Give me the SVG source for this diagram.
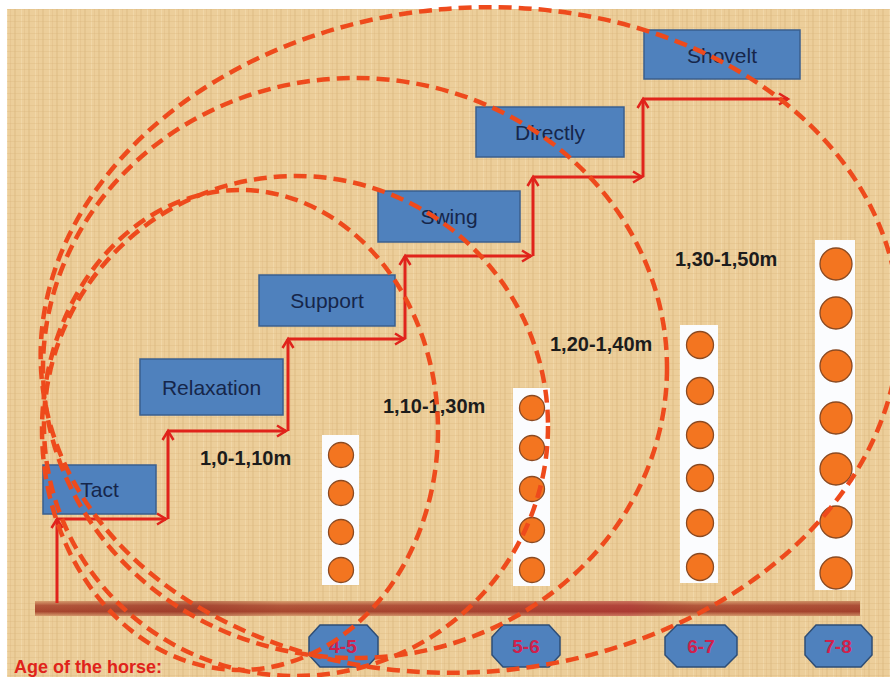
<svg xmlns="http://www.w3.org/2000/svg" width="890" height="677" viewBox="0 0 890 677">
<defs>
<pattern id="pap" width="14" height="6" patternUnits="userSpaceOnUse">
<rect width="14" height="6" fill="#ECCE9A"/>
<rect x="0" width="2" height="6" fill="#E0BD86" opacity="0.55"/>
<rect x="7" width="1" height="6" fill="#F4DCAE" opacity="0.7"/>
<rect x="10" width="1" height="6" fill="#DDB780" opacity="0.35"/>
<rect y="3" width="14" height="1" fill="#D9B47C" opacity="0.3"/>
</pattern>
<linearGradient id="barV" x1="0" y1="0" x2="0" y2="1">
<stop offset="0" stop-color="#D9A070"/>
<stop offset="0.3" stop-color="#B3583C"/>
<stop offset="0.7" stop-color="#A8472F"/>
<stop offset="1" stop-color="#D9A070"/>
</linearGradient>
<linearGradient id="barH" x1="0" y1="0" x2="1" y2="0">
<stop offset="0" stop-color="#8E2A22" stop-opacity="0"/>
<stop offset="0.2" stop-color="#8E2A22" stop-opacity="0.35"/>
<stop offset="0.3" stop-color="#8E2A22" stop-opacity="0"/>
<stop offset="0.72" stop-color="#B0203A" stop-opacity="0.35"/>
<stop offset="0.8" stop-color="#8E2A22" stop-opacity="0"/>
<stop offset="1" stop-color="#8E2A22" stop-opacity="0.2"/>
</linearGradient>
<marker id="ah" markerWidth="14" markerHeight="14" refX="10" refY="7" orient="auto" markerUnits="userSpaceOnUse">
<path d="M1,1.5 L10,7 L1,12.5" fill="none" stroke="#E0231B" stroke-width="2.5"/>
</marker>
</defs>
<style>
.box{fill:#4F81BD;stroke:#3A5F8E;stroke-width:1.5}
.btxt{font-family:"Liberation Sans",Arial,sans-serif;font-size:21px;fill:#16264A;text-anchor:middle}
.oct{fill:#4F81BD;stroke:#2E4D75;stroke-width:1.5}
.otxt{font-family:"Liberation Sans",Arial,sans-serif;font-size:19px;font-weight:bold;fill:#D0204C;text-anchor:middle}
.rng{font-family:"Liberation Sans",Arial,sans-serif;font-size:20px;font-weight:bold;fill:#1C1C1C}
.col{fill:#FBFCFE}
.dot{fill:#F37520;stroke:#8A4A22;stroke-width:1.3}
.stp{fill:none;stroke:#E0231B;stroke-width:3;marker-end:url(#ah)}
.ell{fill:none;stroke:#EE4A1C;stroke-width:4.5;stroke-dasharray:13 7}
</style>
<rect width="890" height="677" fill="#FFFFFF"/>
<rect x="7" y="9" width="883" height="668" fill="url(#pap)"/>
<g id="ground">
<rect x="35" y="601" width="825" height="15" fill="url(#barV)"/>
<rect x="35" y="601" width="825" height="15" fill="url(#barH)"/>
</g>
<g id="col-4-5">
<rect class="col" x="322" y="435" width="37" height="150"/>
<circle class="dot" cx="341" cy="455" r="12.5"/>
<circle class="dot" cx="341" cy="493" r="12.5"/>
<circle class="dot" cx="341" cy="532" r="12.5"/>
<circle class="dot" cx="341" cy="570" r="12.5"/>
</g>
<g id="col-5-6">
<rect class="col" x="513" y="388" width="37" height="198"/>
<circle class="dot" cx="532" cy="408" r="12.5"/>
<circle class="dot" cx="532" cy="448" r="12.5"/>
<circle class="dot" cx="532" cy="489" r="12.5"/>
<circle class="dot" cx="532" cy="530" r="12.5"/>
<circle class="dot" cx="532" cy="570" r="12.5"/>
</g>
<g id="col-6-7">
<rect class="col" x="680" y="325" width="38" height="258"/>
<circle class="dot" cx="700" cy="345" r="13.5"/>
<circle class="dot" cx="700" cy="391" r="13.5"/>
<circle class="dot" cx="700" cy="435" r="13.5"/>
<circle class="dot" cx="700" cy="478" r="13.5"/>
<circle class="dot" cx="700" cy="523" r="13.5"/>
<circle class="dot" cx="700" cy="567" r="13.5"/>
</g>
<g id="col-7-8">
<rect class="col" x="815" y="240" width="40" height="350"/>
<circle class="dot" cx="836" cy="264" r="16"/>
<circle class="dot" cx="836" cy="313" r="16"/>
<circle class="dot" cx="836" cy="366" r="16"/>
<circle class="dot" cx="836" cy="418" r="16"/>
<circle class="dot" cx="836" cy="469" r="16"/>
<circle class="dot" cx="836" cy="522" r="16"/>
<circle class="dot" cx="836" cy="573" r="16"/>
</g>
<g id="tact"><rect class="box" x="43" y="465" width="113" height="49"/><text class="btxt" x="99.5" y="497">Tact</text></g>
<g id="relaxation"><rect class="box" x="140" y="359" width="143" height="56"/><text class="btxt" x="211.5" y="395">Relaxation</text></g>
<g id="support"><rect class="box" x="259" y="275" width="136" height="51"/><text class="btxt" x="327" y="308">Support</text></g>
<g id="swing"><rect class="box" x="378" y="191" width="142" height="51"/><text class="btxt" x="449" y="224">Swing</text></g>
<g id="directly"><rect class="box" x="476" y="107" width="148" height="50"/><text class="btxt" x="550" y="140">Directly</text></g>
<g id="shovelt"><rect class="box" x="644" y="30" width="156" height="49"/><text class="btxt" x="722" y="63">Shovelt</text></g>
<g id="connectors">
<path class="stp" d="M57,603 V519"/>
<path class="stp" d="M57,519 H166"/>
<path class="stp" d="M168,519 V431"/>
<path class="stp" d="M168,431 H286"/>
<path class="stp" d="M288,431 V339"/>
<path class="stp" d="M288,339 H404"/>
<path class="stp" d="M405,339 V256"/>
<path class="stp" d="M405,256 H531"/>
<path class="stp" d="M533,256 V177"/>
<path class="stp" d="M533,177 H642"/>
<path class="stp" d="M643,177 V99"/>
<path class="stp" d="M643,99 H788"/>
</g>
<g id="labels">
<text class="rng" x="200" y="465">1,0-1,10m</text>
<text class="rng" x="383" y="413">1,10-1,30m</text>
<text class="rng" x="550" y="351">1,20-1,40m</text>
<text class="rng" x="675" y="266">1,30-1,50m</text>
</g>
<g id="age-4-5"><path class="oct" d="M320,625 H367 L378,637 V655 L367,667 H320 L309,655 V637 Z"/><text class="otxt" x="343" y="653">4-5</text></g>
<g id="age-5-6"><path class="oct" d="M503,625 H549 L560,637 V655 L549,667 H503 L492,655 V637 Z"/><text class="otxt" x="526" y="653">5-6</text></g>
<g id="age-6-7"><path class="oct" d="M677,625 H725 L737,637 V655 L725,667 H677 L665,655 V637 Z"/><text class="otxt" x="701" y="653">6-7</text></g>
<g id="age-7-8"><path class="oct" d="M816,625 H861 L872,637 V655 L861,667 H816 L805,655 V637 Z"/><text class="otxt" x="838" y="653">7-8</text></g>
<g id="ranges">
<ellipse class="ell" cx="240" cy="430" rx="198" ry="240"/>
<ellipse class="ell" cx="296" cy="426" rx="252" ry="250"/>
<ellipse class="ell" cx="355" cy="368" rx="312" ry="290"/>
<ellipse class="ell" cx="470" cy="340" rx="430" ry="332" transform="rotate(-5 470 340)"/>
</g>
<text x="14" y="673" font-family="Liberation Sans, Arial, sans-serif" font-size="18" font-weight="bold" fill="#E0231B">Age of the horse:</text>
</svg>
